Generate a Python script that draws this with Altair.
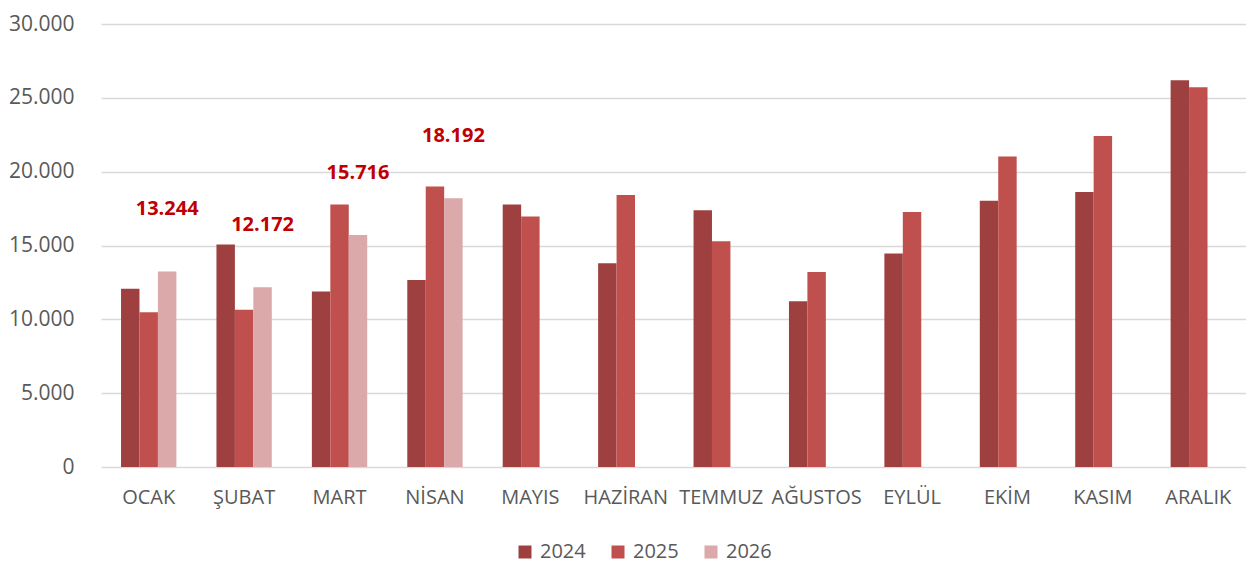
import altair as alt
import pandas as pd

months = ["OCAK", "ŞUBAT", "MART", "NİSAN", "MAYIS", "HAZİRAN",
          "TEMMUZ", "AĞUSTOS", "EYLÜL", "EKİM", "KASIM", "ARALIK"]
years = ["2024", "2025", "2026"]
values_2024 = [12070, 15070, 11890, 12670, 17780, 13790, 17390, 11230, 14450, 18030, 18620, 26190]
values_2025 = [10480, 10650, 17780, 18990, 16970, 18420, 15290, 13200, 17270, 21030, 22420, 25720]
values_2026 = [13244, 12172, 15716, 18192]
colors = ["#9E4040", "#C0504D", "#DBA9A9"]

rows = []
for y, vals in zip(years, [values_2024, values_2025, values_2026]):
    for m, v in zip(months, vals):
        rows.append({"month": m, "year": y, "value": v})
df = pd.DataFrame(rows)

FONT = "Open Sans"
GREY = "#595959"

base = alt.Chart(df).encode(
    x=alt.X("month:N", sort=months, title=None,
            scale=alt.Scale(paddingInner=0.42, paddingOuter=0.21),
            axis=alt.Axis(labelFont=FONT, labelFontSize=20, labelColor=GREY,
                          labelPadding=20, labelOverlap=False, labelLimit=300,
                          domain=False, ticks=False, labelAngle=0)),
    xOffset=alt.XOffset("year:N", sort=years, scale=alt.Scale(domain=years)),
)

bars = base.mark_bar().encode(
    y=alt.Y("value:Q", title=None,
            scale=alt.Scale(domain=[0, 30000], nice=False),
            axis=alt.Axis(values=[0, 5000, 10000, 15000, 20000, 25000, 30000],
                          labelExpr="replace(format(datum.value, ','), ',', '.')",
                          labelFont=FONT, labelFontSize=21, labelColor=GREY,
                          labelPadding=27, domain=False, ticks=False,
                          gridColor="#D9D9D9", gridWidth=1.5)),
    color=alt.Color("year:N", sort=years,
                    scale=alt.Scale(domain=years, range=colors),
                    legend=alt.Legend(title=None, orient="none", direction="horizontal",
                                      legendX=414, legendY=518,
                                      labelFont=FONT, labelFontSize=20, labelColor=GREY,
                                      symbolType="square", symbolSize=169,
                                      symbolStrokeWidth=0, labelOffset=5,
                                      columnPadding=22)),
)

labels = base.transform_filter(alt.datum.year == "2026").transform_calculate(
    label="replace(format(datum.value, ','), ',', '.')"
).mark_text(font=FONT, fontSize=20, fontWeight="bold", color="#C00000",
            baseline="middle", dy=-62).encode(
    y="value:Q",
    text="label:N",
)

chart = (bars + labels).properties(
    width=1145, height=443,
    padding={"left": 0, "top": 5, "right": 0, "bottom": 10},
).configure_view(stroke=None)

chart.save("out.html", embed_options={"renderer": "svg", "actions": False})
